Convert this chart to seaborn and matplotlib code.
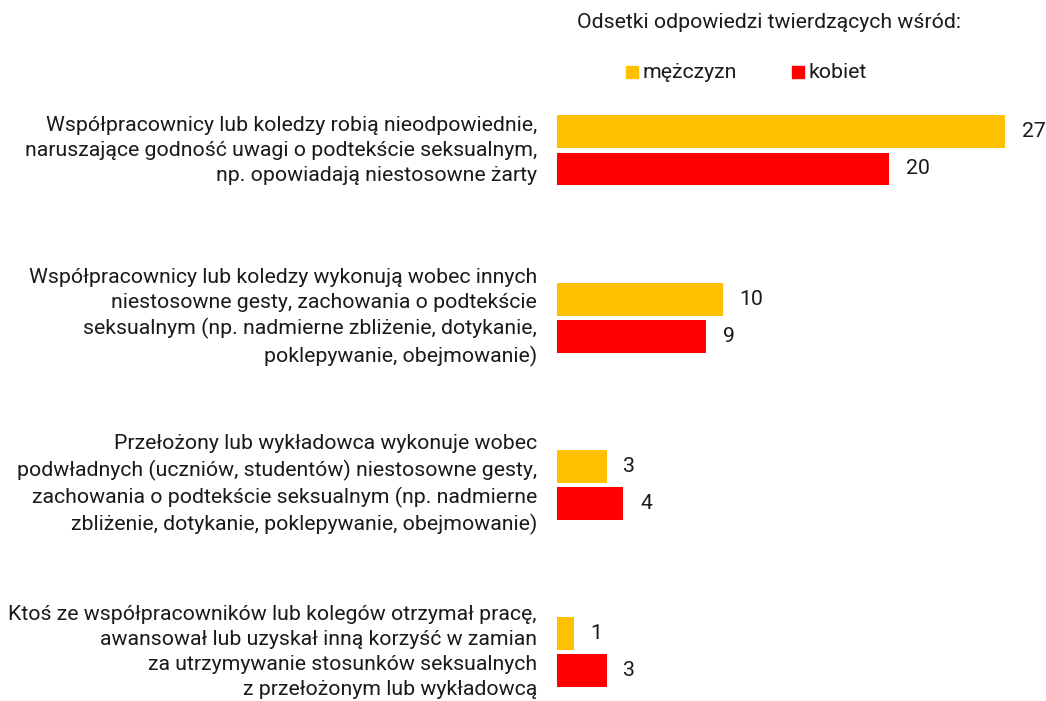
import pandas as pd
import seaborn as sns
import matplotlib.pyplot as plt

# dane z wykresu
kategorie = [
    'Współpracownicy lub koledzy robią nieodpowiednie,\nnaruszające godność uwagi o podtekście seksualnym,\nnp. opowiadają niestosowne żarty',
    'Współpracownicy lub koledzy wykonują wobec innych\nniestosowne gesty, zachowania o podtekście\nseksualnym (np. nadmierne zbliżenie, dotykanie,\npoklepywanie, obejmowanie)',
    'Przełożony lub wykładowca wykonuje wobec\npodwładnych (uczniów, studentów) niestosowne gesty,\nzachowania o podtekście seksualnym (np. nadmierne\nzbliżenie, dotykanie, poklepywanie, obejmowanie)',
    'Ktoś ze współpracowników lub kolegów otrzymał pracę,\nawansował lub uzyskał inną korzyść w zamian\nza utrzymywanie stosunków seksualnych\nz przełożonym lub wykładowcą',
]
grupy = ['mężczyzn', 'kobiet']
mezczyzni = [27, 10, 3, 1]
kobiety = [20, 9, 4, 3]
kolory = ['#FFC000', '#FF0000']

df = pd.DataFrame({
    'kategoria': kategorie * 2,
    'grupa': [grupy[0]] * 4 + [grupy[1]] * 4,
    'wartosc': mezczyzni + kobiety,
})

sns.set_theme(style='white')
plt.rcParams['font.family'] = ['Roboto', 'DejaVu Sans']

fs = 15.3
fig = plt.figure(figsize=(10.46, 7.01), dpi=100)
ax = fig.add_axes([557 / 1046, 0, 1 - 557 / 1046, 1])

sns.barplot(data=df, y='kategoria', x='wartosc', hue='grupa', palette=kolory,
            orient='h', width=0.443, gap=0.11, legend=False, ax=ax,
            saturation=1, edgecolor='none')

# etykiety wartosci
for cont in ax.containers:
    ax.bar_label(cont, padding=12, fontsize=fs, color='#1a1a1a')

ax.set_xlim(0, 489 / 16.6)
ax.set_ylim(3.293, -0.900)
ax.set_xlabel('')
ax.set_ylabel('')
ax.set_xticks([])
ax.tick_params(axis='y', length=0, pad=14.4, labelsize=fs, labelcolor='#1a1a1a')
for lab in ax.get_yticklabels():
    lab.set_horizontalalignment('right')
    lab.set_verticalalignment('center')
    lab.set_multialignment('right')
    lab.set_linespacing(1.38)
sns.despine(ax=ax, left=True, bottom=True)

# tytul i legenda
fig.text(769 / 1046, 1 - 22 / 701, 'Odsetki odpowiedzi twierdzących wśród:',
         ha='center', va='center', fontsize=fs, color='#1a1a1a')
for kol, nazwa, xs in zip(kolory, grupy, [626, 792]):
    fig.patches.append(plt.Rectangle((xs / 1046, 1 - 78 / 701), 12 / 1046, 12 / 701,
                                     color=kol, transform=fig.transFigure, figure=fig))
    fig.text((xs + 17) / 1046, 1 - 72 / 701, nazwa, ha='left', va='center',
             fontsize=fs, color='#1a1a1a')

plt.savefig('out.png', dpi=100)
